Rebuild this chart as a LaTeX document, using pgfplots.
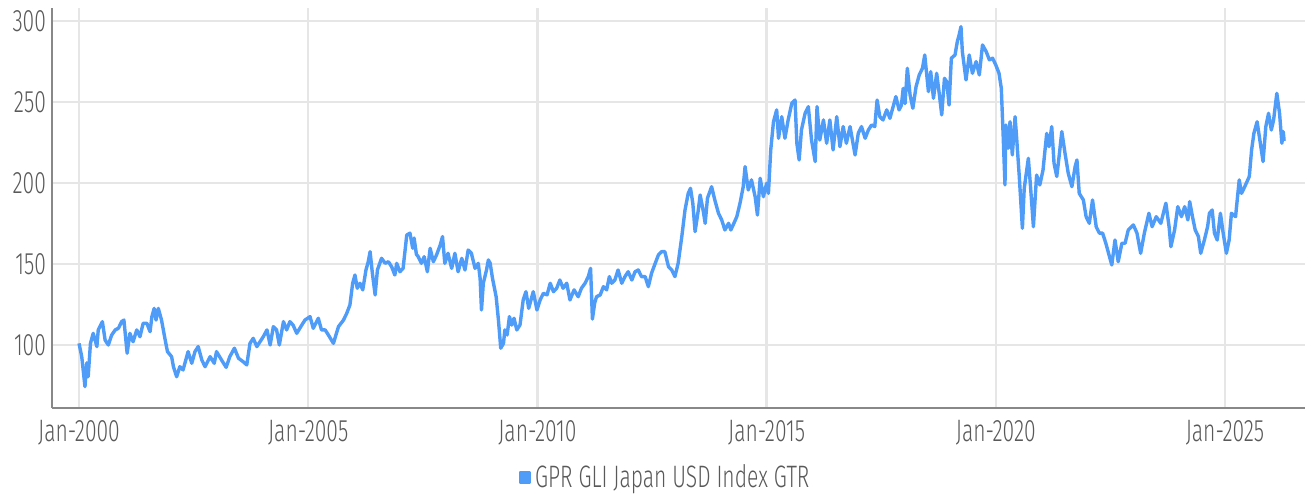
\documentclass[border=0pt]{standalone}
\usepackage{fontspec}
\setmainfont{Fira Sans}[UprightFont={* Light},FakeStretch=0.68]
\usepackage{pgfplots}
\usepackage{pgfplotstable}
\pgfplotsset{compat=1.18}
\definecolor{lineblue}{HTML}{4F9BF8}
\definecolor{gridgray}{HTML}{E6E6E6}
\definecolor{axisgray}{HTML}{888888}
\definecolor{textgray}{HTML}{595959}
\pgfplotstableread{
year value
2000.00 101
2000.06 92.8
2000.13 74.3
2000.17 89
2000.20 80.4
2000.25 101
2000.31 107.2
2000.39 99
2000.42 109.3
2000.51 114.4
2000.57 103
2000.64 100
2000.71 106
2000.79 109.3
2000.86 110.3
2000.93 114.4
2000.98 115.4
2001.05 94.9
2001.11 107.2
2001.18 102
2001.26 109.3
2001.33 105.1
2001.40 113.4
2001.48 113.4
2001.55 108.2
2001.59 117.5
2001.64 122.6
2001.68 115.4
2001.73 122.6
2001.80 115.4
2001.88 103.1
2001.93 95.9
2002.02 92.8
2002.06 86.6
2002.13 80.4
2002.20 86.6
2002.27 84.6
2002.38 95.9
2002.46 88.7
2002.53 95.9
2002.60 99
2002.68 90.7
2002.75 86.6
2002.86 92.8
2002.95 88.7
2003.00 95.9
2003.11 90.7
2003.21 86.2
2003.29 92.8
2003.39 98
2003.48 91.8
2003.58 89.7
2003.66 87.7
2003.73 101
2003.80 104.1
2003.88 99
2004.02 105.1
2004.10 109.3
2004.17 100
2004.24 111.3
2004.31 109.3
2004.37 100
2004.46 114.4
2004.53 109.3
2004.60 114.4
2004.67 112.3
2004.75 107.2
2004.86 112.3
2004.93 115.4
2005.04 117.5
2005.11 110.3
2005.22 116.5
2005.29 109.3
2005.37 109.3
2005.44 106.2
2005.55 101
2005.66 111.3
2005.77 115.4
2005.84 119.5
2005.91 124.7
2005.97 138.1
2006.02 143.2
2006.07 135
2006.13 138.1
2006.19 134
2006.26 146.3
2006.31 151.4
2006.35 157.6
2006.40 144.3
2006.46 130.9
2006.51 146.3
2006.60 153.5
2006.68 150.4
2006.75 151.4
2006.82 148.3
2006.89 143.2
2006.93 150.4
2007.00 145.2
2007.07 147.3
2007.15 167.9
2007.22 169
2007.28 159.7
2007.31 166
2007.36 156
2007.40 154.5
2007.47 150.4
2007.53 154.5
2007.60 145.2
2007.66 159.7
2007.73 151.4
2007.80 155.6
2007.88 161.7
2007.93 166.9
2007.98 150.4
2008.05 156.6
2008.13 147.3
2008.20 156.6
2008.27 145.2
2008.35 153.5
2008.42 146.3
2008.49 158.6
2008.56 156.6
2008.64 147.3
2008.71 150.4
2008.75 141.2
2008.78 121.6
2008.82 138.1
2008.89 146.3
2008.93 152.5
2008.97 150.4
2009.02 141.2
2009.10 129.8
2009.15 115.4
2009.20 98
2009.26 101
2009.29 109.3
2009.34 106.2
2009.39 117.5
2009.44 112.3
2009.49 116.5
2009.55 109.3
2009.62 112.3
2009.69 127.8
2009.75 132.9
2009.81 122.6
2009.86 127.8
2009.91 132.9
2009.99 121.6
2010.06 127.8
2010.13 131.9
2010.21 130.9
2010.28 138.1
2010.35 132.9
2010.42 135
2010.49 140.1
2010.56 135
2010.64 138.1
2010.71 127.8
2010.80 134
2010.89 129.8
2010.96 135
2011.04 138.1
2011.11 142.2
2011.16 147.3
2011.20 116
2011.25 126
2011.29 129.8
2011.37 130.9
2011.44 136
2011.51 134
2011.57 142.2
2011.62 138.1
2011.69 140.1
2011.76 146.3
2011.84 138.1
2011.91 142.2
2011.98 145.2
2012.06 140.1
2012.13 145.2
2012.20 146.3
2012.27 142.2
2012.35 142.2
2012.42 136
2012.49 144.3
2012.57 150.4
2012.64 155.6
2012.71 157.6
2012.78 157.6
2012.86 148.3
2012.93 146.3
2013.00 142.2
2013.07 150.4
2013.15 166.9
2013.22 183.3
2013.29 193.6
2013.34 196.7
2013.39 187.5
2013.44 170
2013.51 183.3
2013.55 192.6
2013.62 182.3
2013.66 175.1
2013.71 190.6
2013.80 197.7
2013.87 189.5
2013.95 181.3
2014.02 177.2
2014.09 171
2014.17 175.1
2014.22 171
2014.27 174.1
2014.35 179.2
2014.42 187.5
2014.49 197.7
2014.53 210.1
2014.60 195.7
2014.67 201.9
2014.75 191.5
2014.80 180.2
2014.86 202.9
2014.93 191.5
2015.00 199.8
2015.04 193.6
2015.09 220.4
2015.15 237.8
2015.22 245.1
2015.26 227.6
2015.33 240.9
2015.40 227.6
2015.47 238.9
2015.55 249.2
2015.62 251.2
2015.66 224.5
2015.71 214.2
2015.76 232.7
2015.84 243
2015.91 247.1
2015.98 226.5
2016.06 213.2
2016.10 247.1
2016.16 226.5
2016.24 238.9
2016.31 224.5
2016.38 238.9
2016.45 220.4
2016.53 240.9
2016.60 222.4
2016.67 234.8
2016.74 224.5
2016.82 234.8
2016.93 217.3
2017.00 230.7
2017.07 234.8
2017.15 227.6
2017.22 232.7
2017.29 235.8
2017.36 234.8
2017.41 251.2
2017.47 240.9
2017.54 238.9
2017.62 245.1
2017.69 239.9
2017.76 247.1
2017.82 253.3
2017.89 245.1
2017.94 248
2017.98 258.4
2018.02 249
2018.07 270.8
2018.13 254.3
2018.19 246.1
2018.26 259.4
2018.33 266.7
2018.40 270.8
2018.45 279
2018.53 256.4
2018.58 268.7
2018.64 252.3
2018.71 267.7
2018.77 254.3
2018.82 242
2018.88 264.6
2018.93 262.5
2018.98 248.1
2019.03 277
2019.11 279
2019.16 287.2
2019.20 291.4
2019.24 296.5
2019.27 281.1
2019.35 263.6
2019.42 279
2019.49 267.7
2019.57 274.9
2019.64 266.7
2019.71 285.2
2019.79 281.1
2019.86 276
2019.93 277
2020.00 272.8
2020.07 267.7
2020.12 258.4
2020.16 229.6
2020.20 198.8
2020.22 235.8
2020.27 221.4
2020.31 237.8
2020.36 217.3
2020.42 240.9
2020.45 229.6
2020.51 204.9
2020.58 172
2020.62 196.7
2020.71 215.2
2020.76 196.7
2020.82 173
2020.89 204.9
2020.96 198.8
2021.03 208
2021.11 230.6
2021.16 222.4
2021.22 234.8
2021.27 212.2
2021.33 204
2021.38 216.3
2021.44 231.7
2021.51 218.3
2021.58 206
2021.66 197.7
2021.73 210.1
2021.77 214.2
2021.82 193.6
2021.91 189.5
2021.97 179.2
2022.04 175.1
2022.11 189.5
2022.19 173
2022.26 169
2022.33 169
2022.40 162.8
2022.48 154.5
2022.53 149.4
2022.60 164.8
2022.67 151.4
2022.75 162.8
2022.82 162.8
2022.89 171
2023.00 174.1
2023.08 169
2023.16 156.6
2023.24 169
2023.34 181.3
2023.41 173
2023.50 179.2
2023.60 175.1
2023.71 187.5
2023.78 173
2023.82 160.7
2023.90 171
2023.97 185.4
2024.05 179.2
2024.12 185.4
2024.19 177.2
2024.23 188.5
2024.29 179.2
2024.35 171
2024.42 166.9
2024.47 156.6
2024.55 164.8
2024.62 173
2024.66 181.3
2024.72 183.3
2024.77 169
2024.83 164.8
2024.90 181.3
2024.96 169
2025.03 156.6
2025.09 164.8
2025.14 181.3
2025.23 179.2
2025.31 201.9
2025.36 193.6
2025.43 197.7
2025.53 204
2025.58 220.4
2025.63 230.6
2025.70 237.8
2025.76 226.5
2025.83 213.2
2025.89 234.8
2025.95 243
2026.01 232.7
2026.06 238.9
2026.13 255.3
2026.19 243
2026.24 224.5
2026.27 231.7
2026.29 226
}\gprdata
\begin{document}
\begin{tikzpicture}
\path[use as bounding box] (-26pt,-42.5pt) rectangle (627pt,204pt);
\begin{axis}[
  scale only axis,
  width=626.5pt, height=200pt,
  xmin=1999.411, xmax=2026.745,
  ymin=61.1, ymax=308,
  axis x line*=bottom, axis y line*=left,
  axis line style={draw=axisgray, line width=1pt, -},
  xtick={2000,2005,2010,2015,2020,2025},
  xticklabels={Jan-2000,Jan-2005,Jan-2010,Jan-2015,Jan-2020,Jan-2025},
  ytick={100,150,200,250,300},
  major tick length=0pt,
  grid=major,
  major grid style={draw=gridgray, line width=1.2pt},
  tick label style={font=\fontsize{15.5}{17}\selectfont, text=textgray},
  /pgf/number format/assume math mode=true,
  xticklabel style={yshift=-2.5pt},
  yticklabel style={xshift=0.5pt},
  legend style={at={(0.49,-0.13)}, anchor=north, draw=none, fill=none,
    font=\fontsize{15.5}{17}\selectfont, text=textgray,
    legend cell align=left, inner sep=0pt},
  legend image code/.code={\fill[lineblue] (3pt,-2.3pt) rectangle (7.6pt,2.3pt);},
]
\addplot[lineblue, line width=1.7pt, line join=round] table[x=year, y=value] {\gprdata};
\addlegendentry{GPR GLI Japan USD Index GTR}
\end{axis}
\end{tikzpicture}
\end{document}
